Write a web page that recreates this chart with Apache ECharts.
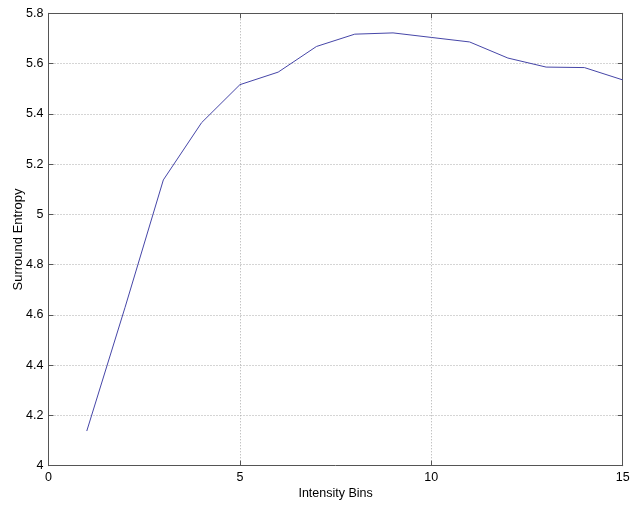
<!DOCTYPE html>
<html>
<head>
<meta charset="utf-8">
<script src="https://cdn.jsdelivr.net/npm/echarts@6/dist/echarts.min.js"></script>
<style>
html,body{margin:0;padding:0;background:#fff;}
#chart{width:630px;height:505px;}
</style>
</head>
<body>
<div id="chart"></div>
<script>
var bins = [1, 2, 3, 4, 5, 6, 7, 8, 9, 10, 11, 12, 13, 14, 15];
var entropy = [4.138, 4.630, 5.137, 5.365, 5.516, 5.566, 5.668, 5.717, 5.722, 5.704, 5.686, 5.622, 5.586, 5.584, 5.535];
var xTitle = 'Intensity Bins';
var yTitle = 'Surround Entropy';

var data = bins.map(function (b, i) { return [b, entropy[i]]; });
var font = 'Liberation Sans, Arial, sans-serif';
var axisColor = '#555';
var gridLine = { show: true, lineStyle: { color: '#aaa', type: [1, 2], width: 1 } };

var chart = echarts.init(document.getElementById('chart'), null, { renderer: 'canvas' });
chart.setOption({
  animation: false,
  backgroundColor: '#fff',
  grid: { left: 48.5, right: 7.3, top: 13.3, bottom: 39.3, show: false, containLabel: false, outerBoundsMode: 'none' },
  xAxis: [{
    type: 'value', min: 0, max: 15, interval: 5,
    name: xTitle, nameLocation: 'middle', nameGap: 21, nameMoveOverlap: false,
    nameTextStyle: { fontFamily: font, fontSize: 12.5, color: '#000' },
    axisLine: { show: true, onZero: false, lineStyle: { color: axisColor } },
    axisTick: { show: true, inside: true, length: 5, lineStyle: { color: axisColor } },
    axisLabel: { fontFamily: font, fontSize: 12.5, color: '#000', margin: 5 },
    splitLine: gridLine
  }, {
    type: 'value', min: 0, max: 15, interval: 5, position: 'top',
    axisLine: { show: true, onZero: false, lineStyle: { color: axisColor } },
    axisTick: { show: true, inside: true, length: 5, lineStyle: { color: axisColor } },
    axisLabel: { show: false }, splitLine: { show: false }
  }],
  yAxis: [{
    type: 'value', min: 4, max: 5.8, interval: 0.2,
    name: yTitle, nameLocation: 'middle', nameGap: 24, nameRotate: 90, nameMoveOverlap: false,
    nameTextStyle: { fontFamily: font, fontSize: 13, color: '#000' },
    axisLine: { show: true, onZero: false, lineStyle: { color: axisColor } },
    axisTick: { show: true, inside: true, length: 5, lineStyle: { color: axisColor } },
    axisLabel: { fontFamily: font, fontSize: 12.5, color: '#000', margin: 5,
      formatter: function (v) { return String(Math.round(v * 10) / 10); } },
    splitLine: gridLine
  }, {
    type: 'value', min: 4, max: 5.8, interval: 0.2, position: 'right',
    axisLine: { show: true, onZero: false, lineStyle: { color: axisColor } },
    axisTick: { show: true, inside: true, length: 5, lineStyle: { color: axisColor } },
    axisLabel: { show: false }, splitLine: { show: false }
  }],
  series: [{
    type: 'line',
    data: data,
    xAxisIndex: 0, yAxisIndex: 0,
    showSymbol: false, symbol: 'none',
    lineStyle: { color: '#4646a8', width: 1 },
    silent: true
  }]
});
</script>
</body>
</html>
